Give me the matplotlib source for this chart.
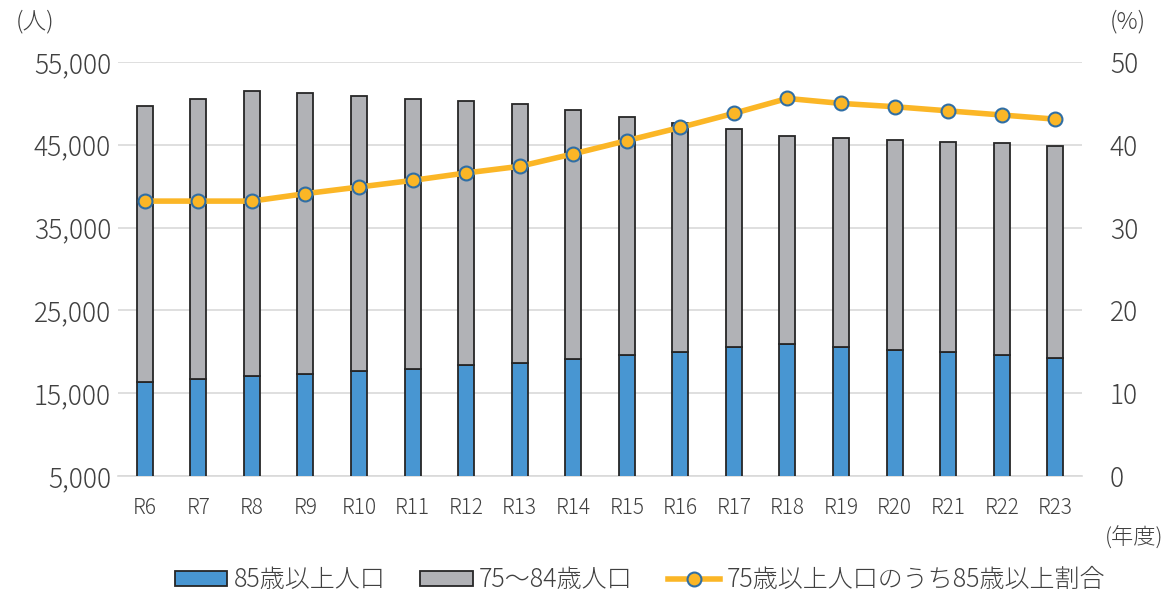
import matplotlib
matplotlib.use("Agg")
import matplotlib.pyplot as plt
from matplotlib.ticker import FuncFormatter, FixedLocator
from matplotlib.patches import Patch
from matplotlib.lines import Line2D

plt.rcParams['font.family'] = ['Noto Sans CJK JP', 'DejaVu Sans']
plt.rcParams['font.weight'] = 'light'

years = ["R6", "R7", "R8", "R9", "R10", "R11", "R12", "R13", "R14", "R15",
         "R16", "R17", "R18", "R19", "R20", "R21", "R22", "R23"]
over85 = [16410, 16690, 17050, 17370, 17650, 17980, 18370, 18660, 19100, 19580,
          20020, 20540, 20900, 20630, 20270, 19940, 19630, 19220]
total75 = [49700, 50540, 51500, 51230, 50940, 50540, 50270, 49940, 49180, 48410,
           47690, 46930, 46120, 45880, 45640, 45360, 45160, 44840]
age75_84 = [t - o for t, o in zip(total75, over85)]
ratio85 = [33.2, 33.2, 33.2, 34.1, 34.9, 35.7, 36.6, 37.4, 38.9, 40.5,
           42.1, 43.8, 45.6, 45.0, 44.6, 44.1, 43.6, 43.1]

left_ticks = [5000, 15000, 25000, 35000, 45000, 55000]
right_ticks = [0, 10, 20, 30, 40, 50]

txt = "#404040"
blue = "#4896D2"
gray = "#B1B2B6"
orange = "#FBB626"
mblue = "#2F6EA5"
edge = "#262626"

fig = plt.figure(figsize=(11.7, 5.93), dpi=100)
ax = fig.add_axes([118/1170, 1-476/593, (1082-118)/1170, (476-62)/593])
x = list(range(len(years)))
w = 0.3
ax.bar(x, over85, width=w, color=blue, edgecolor=edge, linewidth=1.3, zorder=3)
ax.bar(x, age75_84, width=w, bottom=over85, color=gray,
       edgecolor=edge, linewidth=1.3, zorder=3)
ax.set_ylim(5000, 55000)
ax.set_xlim(-0.5, len(years) - 0.5)
ax.yaxis.set_major_locator(FixedLocator(left_ticks))
ax.yaxis.set_major_formatter(FuncFormatter(lambda v, p: f"{int(v):,}"))
ax.grid(axis='y', color='#D9D9D9', linewidth=1.2, zorder=0)
for s in ['top', 'right', 'left']:
    ax.spines[s].set_visible(False)
ax.spines['bottom'].set_color('#D9D9D9')
ax.spines['bottom'].set_linewidth(1.2)
ax.set_xticks(x)
ax.set_xticklabels(years)
ax.tick_params(axis='x', length=0, labelsize=15, colors=txt, pad=15)
ax.tick_params(axis='y', length=0, labelsize=19, colors=txt, pad=5)

ax2 = ax.twinx()
ax2.plot(x, ratio85, color=orange, linewidth=4, marker='o', markersize=10,
         markerfacecolor=orange, markeredgecolor=mblue, markeredgewidth=1.5, zorder=5)
ax2.set_ylim(0, 50)
ax2.yaxis.set_major_locator(FixedLocator(right_ticks))
for s in ['top', 'right', 'left', 'bottom']:
    ax2.spines[s].set_visible(False)
ax2.tick_params(axis='y', length=0, labelsize=19, colors=txt, pad=20)

fig.text(16/1170, 1-22/593, "(人)", fontsize=17, color=txt, va='center', ha='left')
fig.text(1110/1170, 1-22/593, "(%)", fontsize=17, color=txt, va='center', ha='left')
fig.text(1134/1170, 1-538/593, "(年度)", fontsize=16, color=txt, va='center', ha='center')

handles = [Patch(facecolor=blue, edgecolor=edge, linewidth=1.3),
           Patch(facecolor=gray, edgecolor=edge, linewidth=1.3),
           Line2D([0], [0], color=orange, linewidth=4, marker='o', markersize=10,
                  markerfacecolor=orange, markeredgecolor=mblue, markeredgewidth=1.5)]
labels = ["85歳以上人口", "75～84歳人口", "75歳以上人口のうち85歳以上割合"]
fig.legend(handles, labels, loc='center', bbox_to_anchor=(640/1170, 1-580/593), ncol=3,
           frameon=False, fontsize=18, handlelength=2.1, handleheight=0.5,
           handletextpad=0.25, columnspacing=1.4, labelcolor=txt)

fig.savefig("out.png", dpi=100)
